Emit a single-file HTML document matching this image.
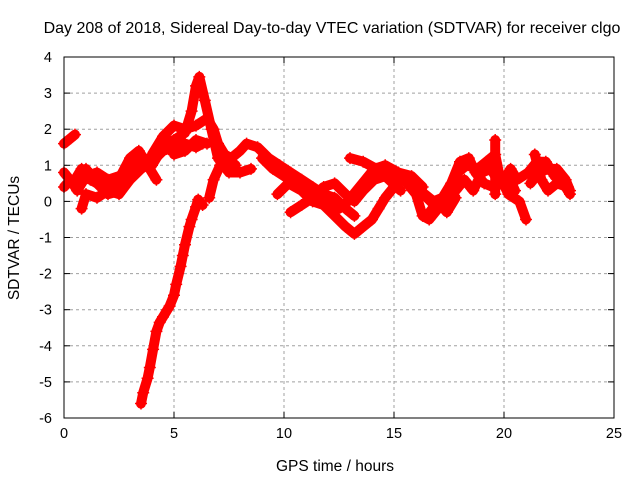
<!DOCTYPE html>
<html><head><meta charset="utf-8"><style>
body{margin:0;background:#fff}
svg{display:block;font-family:"Liberation Sans",sans-serif}
</style></head><body>
<svg id="chart" width="640" height="480">
<rect width="640" height="480" fill="#fff"/>
<text x="332" y="33" font-size="16" text-anchor="middle">Day 208 of 2018, Sidereal Day-to-day VTEC variation (SDTVAR) for receiver clgo</text>
<g id="grid"></g><g id="marks"></g><g id="axes"></g>
<text x="335" y="471" font-size="15.5" text-anchor="middle">GPS time / hours</text>
<text transform="translate(19,238) rotate(-90)" font-size="15.5" text-anchor="middle">SDTVAR / TECUs</text>
</svg>
<script>
const xTicks=[0,5,10,15,20,25];
const yTicks=[4,3,2,1,0,-1,-2,-3,-4,-5,-6];
const trackA=[[3.5,-5.6],[3.6,-5.3],[3.8,-4.9],[3.9,-4.6],[4.05,-4.1],[4.2,-3.6],[4.35,-3.35],[4.5,-3.2],[4.7,-3.0],[4.8,-2.9],[5.0,-2.6],[5.1,-2.3],[5.3,-1.8],[5.4,-1.5],[5.5,-1.2],[5.7,-0.7],[5.8,-0.5],[6.0,-0.15],[6.1,0.05],[6.3,-0.1]];
const trackB=[[0,1.6],[0.3,1.75],[0.5,1.85]];
const trackC=[[0,0.4],[0.3,0.6],[0.6,0.3],[0.8,0.5],[1.0,0.7],[1.5,0.8],[2.0,0.6],[2.5,0.7],[3.0,0.9],[3.5,1.0],[4.0,1.2],[4.5,1.6],[5.0,1.7],[5.5,1.9],[5.8,2.5],[6.0,3.2],[6.15,3.45],[6.4,2.8],[6.7,2.0],[7.0,1.2],[7.5,0.8],[8.0,0.8],[8.5,0.9]];
const trackD=[[0.8,-0.2],[1.0,0.2],[1.5,0.1],[2.0,0.3],[2.5,0.2],[3.0,0.6],[3.5,0.9],[4.0,1.1],[4.5,1.4],[5.0,1.5],[5.5,1.6],[6.0,1.5],[6.3,1.6]];
const trackE=[[4.0,1.3],[4.5,1.8],[5.0,2.1],[5.5,2.0],[6.0,2.1],[6.5,2.3],[6.8,2.0],[7.0,1.6],[7.3,1.3],[7.6,1.2],[8.0,1.4],[8.3,1.6],[8.8,1.5],[9.3,1.2],[9.8,1.0],[10.3,0.8],[10.8,0.6],[11.3,0.4],[11.8,0.2],[12.3,0.1],[12.8,-0.2],[13.2,-0.4]];
const trackF=[[0,0.8],[0.4,0.5],[0.8,0.9],[1.2,0.6],[1.8,0.4],[2.4,0.5],[3.0,1.2],[3.4,1.4],[3.8,1.0],[4.2,0.6]];
const trackG=[[6.6,0.1],[6.8,0.6],[7.1,1.0],[7.4,1.2],[7.8,1.0]];
const trackH=[[9.7,0.2],[10.2,0.5],[10.8,0.3],[11.3,0.0],[11.8,-0.1],[12.3,-0.4],[12.8,-0.7],[13.2,-0.9],[13.6,-0.7],[14.0,-0.5],[14.3,-0.2],[14.6,0.1],[15.0,0.4],[15.5,0.7]];
const trackI=[[9.0,1.2],[9.5,0.9],[10.0,0.7],[10.5,0.5],[11.0,0.4],[11.5,0.2],[12.0,0.0],[12.5,-0.2],[12.9,0.0],[13.3,0.3],[13.7,0.6],[14.1,0.9],[14.6,1.0],[15.2,0.8],[15.8,0.7],[16.3,0.4]];
const trackJ=[[10.3,-0.3],[10.8,-0.1],[11.3,0.1],[11.8,0.4],[12.3,0.5],[12.8,0.2],[13.2,0.0],[13.6,0.3],[14.1,0.6],[14.6,0.7],[15.3,0.3]];
const trackK=[[13.0,1.2],[13.6,1.1],[14.2,0.9],[14.8,0.8],[15.4,0.6],[16.0,0.4],[16.5,0.1],[17.0,-0.2]];
const trackL=[[15.3,0.7],[15.6,0.5],[16.0,0.2],[16.3,-0.4],[16.6,-0.5],[17.0,-0.2],[17.5,0.2],[17.9,0.8],[18.3,1.0],[18.8,0.9],[19.2,1.1],[19.6,1.3],[19.8,0.7],[20.2,0.2],[20.7,0.0],[21.0,-0.5]];
const trackM=[[16.4,0.2],[16.8,0.0],[17.2,0.1],[17.6,0.5],[18.0,1.1],[18.4,1.2],[18.7,0.8],[19.1,0.5],[19.5,0.4],[19.9,0.5],[20.3,0.9],[20.6,0.6],[21.1,0.8],[21.5,1.1],[21.9,1.1],[22.3,0.7],[22.7,0.5],[23.0,0.2]];
const trackN=[[19.6,1.7],[19.6,0.9],[19.6,0.2]];
const trackO=[[21.4,1.3],[21.7,0.6],[22.0,0.3],[22.4,0.5],[22.9,0.4]];
const trackP=[[17.8,0.3],[18.2,0.6],[18.6,0.3],[19.0,0.8],[19.4,0.9],[19.8,0.5],[20.2,0.7],[20.5,0.3]];
const trackQ=[[21.2,0.5],[21.6,0.8],[22.0,0.9],[22.4,0.9],[22.8,0.6],[23.0,0.3]];
const trackR=[[16.5,-0.4],[17.0,0.0],[17.4,-0.3],[17.8,0.1]];
const trackS=[[1.0,0.9],[1.5,0.5],[2.0,0.2],[2.6,0.3],[3.0,0.8],[3.5,1.2],[4.0,1.0],[4.5,1.5]];
const trackT=[[5.0,1.3],[5.5,1.4],[6.0,1.7],[6.5,1.6]];
const tracks=[trackA,trackB,trackC,trackD,trackE,trackF,trackG,trackH,trackI,trackJ,trackK,trackL,trackM,trackN,trackO,trackP,trackQ,trackR,trackS,trackT];

const NS="http://www.w3.org/2000/svg";
const X0=64,X1=614,Y0=418,Y1=57;
function sx(h){return X0+(h-0)/(25-0)*(X1-X0);}
function sy(v){return Y0-(v-(-6))/(4-(-6))*(Y0-Y1);}
function mk(tag,attrs,parent){const e=document.createElementNS(NS,tag);for(const k in attrs)e.setAttribute(k,attrs[k]);parent.appendChild(e);return e;}
const grid=document.getElementById('grid'),axes=document.getElementById('axes'),marks=document.getElementById('marks');
xTicks.forEach(t=>{
  if(t>0&&t<25){const l=mk('line',{x1:sx(t),x2:sx(t),y1:Y1,y2:Y0,stroke:'#a0a0a0','stroke-dasharray':'3,3'},grid);
  
  }
  mk('line',{x1:sx(t),x2:sx(t),y1:Y0,y2:Y0-6,stroke:'#000'},axes);
  mk('line',{x1:sx(t),x2:sx(t),y1:Y1,y2:Y1+6,stroke:'#000'},axes);
  const tx=mk('text',{x:sx(t),y:Y0+20,'font-size':14.5,'text-anchor':'middle'},axes);tx.textContent=t;
  
  
});
yTicks.forEach(t=>{
  if(t>-6&&t<4){const l=mk('line',{x1:X0,x2:X1,y1:sy(t),y2:sy(t),stroke:'#a0a0a0','stroke-dasharray':'3,3'},grid);
  
  }
  mk('line',{x1:X0,x2:X0+6,y1:sy(t),y2:sy(t),stroke:'#000'},axes);
  mk('line',{x1:X1,x2:X1-6,y1:sy(t),y2:sy(t),stroke:'#000'},axes);
  const tx=mk('text',{x:X0-12,y:sy(t)+5,'font-size':14.5,'text-anchor':'end'},axes);tx.textContent=t;
  
  
});
const fr=mk('rect',{x:X0,y:Y1,width:X1-X0,height:Y0-Y1,fill:'none',stroke:'#000'},axes);


tracks.forEach(tr=>{
  const g=mk('g',{},marks);
  
  
  mk('polyline',{points:tr.map(p=>sx(p[0])+','+sy(p[1])).join(' '),fill:'none',stroke:'#ff0000','stroke-width':10,'stroke-linejoin':'round','stroke-linecap':'round'},g);
  tr.forEach(p=>{
    const x=sx(p[0]),y=sy(p[1]);
    const m=mk('path',{d:`M${x-6},${y}H${x+6}M${x},${y-6}V${y+6}`,stroke:'#ff0000','stroke-width':1.5},g);
    
    
  });
});
</script>
</body></html>
